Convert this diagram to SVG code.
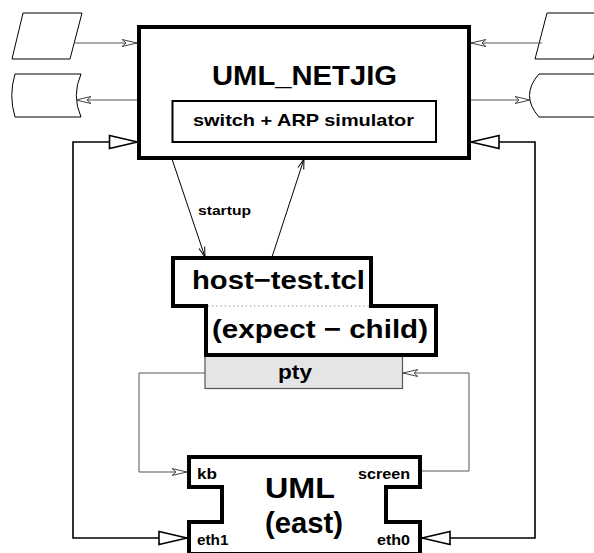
<svg xmlns="http://www.w3.org/2000/svg" width="594" height="553" viewBox="0 0 594 553">
<style>
text{font-family:"Liberation Sans",Arial,Helvetica,sans-serif;font-weight:bold;fill:#000}
.thin{fill:none;stroke:#000;stroke-width:1}
.gray{fill:none;stroke:#555;stroke-width:1}
.eth{fill:none;stroke:#000;stroke-width:1.6}
.box{fill:#fff;stroke:#000;stroke-width:4}
.shape{fill:#fff;stroke:#000;stroke-width:1}
</style>
<defs>
<marker id="barb" viewBox="-17 -6 18 12" markerWidth="18" markerHeight="12" refX="0" refY="0" orient="auto" markerUnits="userSpaceOnUse">
<path d="M0,0 L-15,-3.5 L-11,0 L-15,3.5 Z" fill="#fff" stroke="#444" stroke-width="1"/>
</marker>
<marker id="tri" viewBox="-31 -9 32 18" markerWidth="32" markerHeight="18" refX="0" refY="0" orient="auto-start-reverse" markerUnits="userSpaceOnUse">
<path d="M0,0 L-28,-6.5 L-28,6.5 Z" fill="#fff" stroke="#000" stroke-width="1.6"/>
</marker>
<marker id="vee" viewBox="-12 -5 13 10" markerWidth="13" markerHeight="10" refX="0" refY="0" orient="auto" markerUnits="userSpaceOnUse">
<path d="M-10,-3 L0,0 L-10,3" fill="none" stroke="#000" stroke-width="1"/>
</marker>
</defs>

<g id="input-left"><path class="shape" d="M23,13 L82,13 L70,59 L12,59 Z"/></g>
<g id="output-left"><path class="shape" d="M15,74 L81,74 Q71.5,95.5 81,117 L15,117 Q8.5,95.5 15,74 Z"/></g>
<g id="input-right"><path class="shape" d="M547,13 L605,13 L593,59 L535,59 Z"/></g>
<g id="output-right"><path class="shape" d="M539,74 L600,74 Q589,95.5 600,117 L539,117 Q520,95.5 539,74 Z"/></g>

<g id="connectors">
<path class="gray" d="M74,43 L137,43" marker-end="url(#barb)"/>
<path class="gray" d="M137,100 L76,100" marker-end="url(#barb)"/>
<path class="gray" d="M542,43 L471,43" marker-end="url(#barb)"/>
<path class="gray" d="M471,100 L530,100" marker-end="url(#barb)"/>
<path class="thin" d="M172,159 L205,257" marker-end="url(#vee)"/>
<path class="thin" d="M272,257 L304,159" marker-end="url(#vee)"/>
<path class="gray" d="M205,373 L139,373 L139,472 L187,472" marker-end="url(#barb)"/>
<path class="gray" d="M421,471 L469,471 L469,373 L403,373" marker-end="url(#barb)"/>
<path class="eth" d="M137.5,142 L73,142 L73,538 L187,538" marker-start="url(#tri)" marker-end="url(#tri)"/>
<path class="eth" d="M471,142 L535,142 L535,538 L422,538" marker-start="url(#tri)" marker-end="url(#tri)"/>
<text x="198" y="215" font-size="13" textLength="53" lengthAdjust="spacingAndGlyphs">startup</text>
</g>

<g id="uml-netjig">
<rect class="box" x="139" y="27" width="330" height="131"/>
<text x="212" y="85" font-size="28" textLength="185" lengthAdjust="spacingAndGlyphs">UML_NETJIG</text>
<rect x="172.5" y="101" width="263.5" height="41" fill="#fff" stroke="#000" stroke-width="2"/>
<text x="193" y="126" font-size="17" textLength="221" lengthAdjust="spacingAndGlyphs">switch + ARP simulator</text>
</g>

<g id="pty">
<rect x="205" y="355" width="197.5" height="33.5" fill="#e5e5e5" stroke="#555" stroke-width="1.2"/>
<text x="278" y="379" font-size="20" textLength="34" lengthAdjust="spacingAndGlyphs">pty</text>
</g>

<g id="host-test">
<path class="box" d="M173,258 L371,258 L371,306 L436,306 L436,355 L206,355 L206,306 L173,306 Z"/>
<path d="M208,306 L369,306" stroke="#888" stroke-width="1.2" stroke-dasharray="1.2 3" fill="none"/>
<text x="192" y="289" font-size="26" textLength="173" lengthAdjust="spacingAndGlyphs">host−test.tcl</text>
<text x="212" y="338" font-size="26" textLength="216" lengthAdjust="spacingAndGlyphs">(expect − child)</text>
</g>

<g id="uml-east">
<path class="box" d="M189,457 L420,457 L420,487 L386,487 L386,522 L420,522 L420,554 L189,554 L189,522 L222,522 L222,487 L189,487 Z"/>
<text x="197" y="479" font-size="15" textLength="20" lengthAdjust="spacingAndGlyphs">kb</text>
<text x="358" y="479" font-size="15" textLength="52" lengthAdjust="spacingAndGlyphs">screen</text>
<text x="197" y="545" font-size="15" textLength="31.5" lengthAdjust="spacingAndGlyphs">eth1</text>
<text x="377" y="545" font-size="15" textLength="33" lengthAdjust="spacingAndGlyphs">eth0</text>
<text x="265" y="498" font-size="30" textLength="70" lengthAdjust="spacingAndGlyphs">UML</text>
<text x="265" y="533" font-size="30" textLength="78" lengthAdjust="spacingAndGlyphs">(east)</text>
</g>
</svg>
